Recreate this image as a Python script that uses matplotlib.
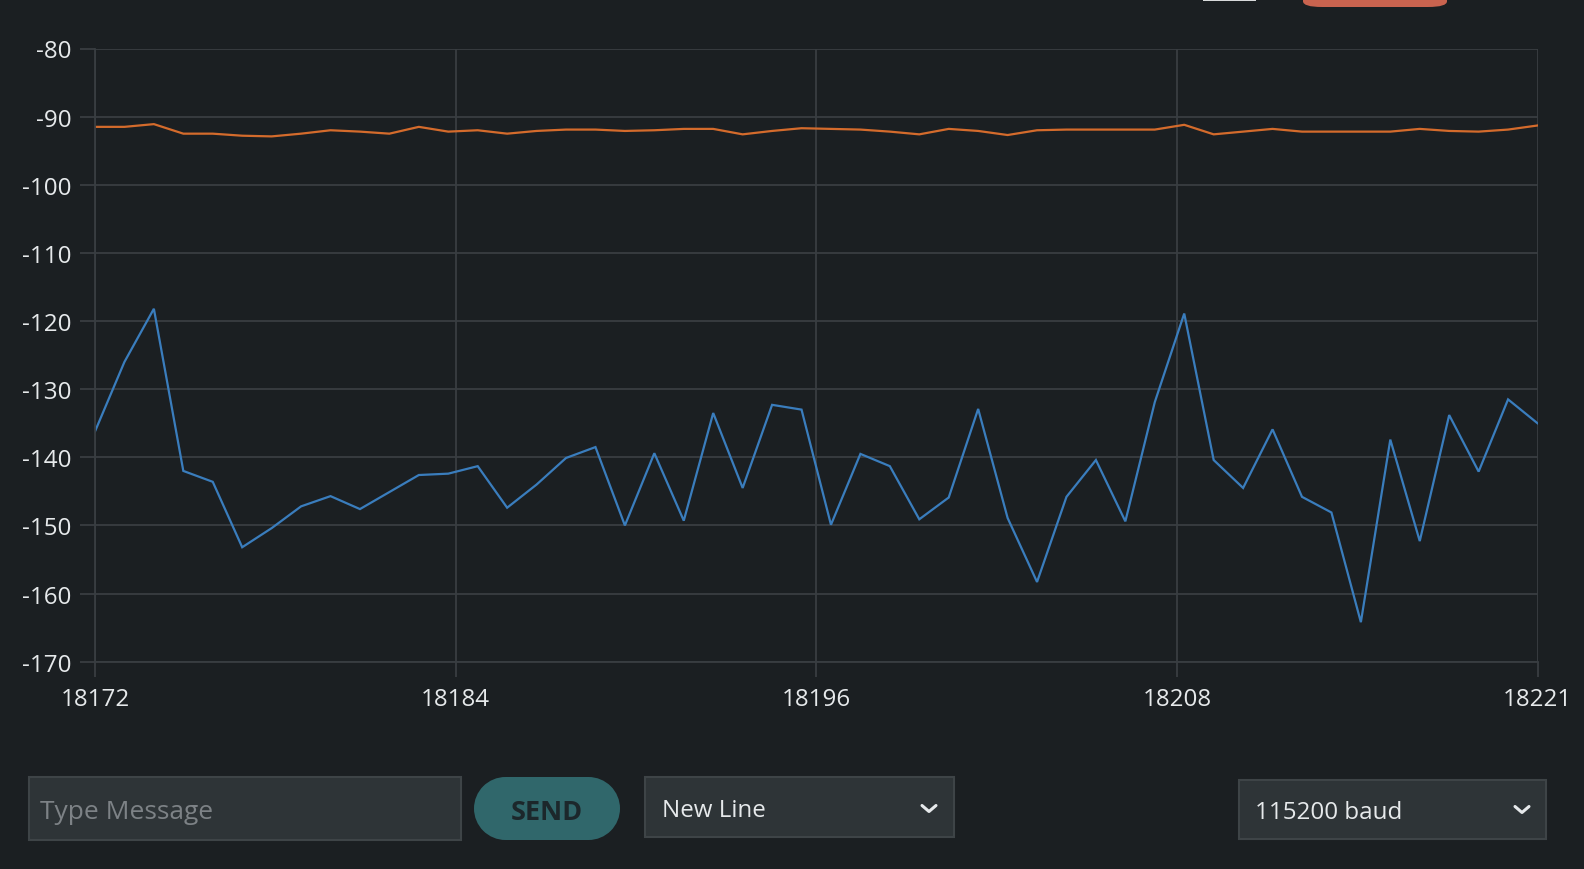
import numpy as np
import matplotlib
matplotlib.use("Agg")
import matplotlib.pyplot as plt
from matplotlib.patches import FancyBboxPatch, Rectangle, Ellipse
from matplotlib.lines import Line2D

# ---------------- data ----------------
x_start = 18172
x_end = 18221
series_blue = [-136.2, -126.0, -118.2, -142.0, -143.6, -153.2, -150.4, -147.2, -145.7, -147.6,
               -145.1, -142.6, -142.4, -141.3, -147.4, -144.0, -140.1, -138.5, -150.0, -139.4,
               -149.3, -133.5, -144.5, -132.3, -133.0, -149.9, -139.5, -141.3, -149.1, -145.9,
               -132.9, -148.9, -158.3, -145.8, -140.4, -149.4, -131.9, -118.9, -140.4, -144.5,
               -135.9, -145.8, -148.1, -164.2, -137.4, -152.3, -133.8, -142.1, -131.5, -135.0]
series_orange = [-91.5, -91.5, -91.1, -92.5, -92.5, -92.8, -92.9, -92.5, -92.0, -92.2,
                 -92.5, -91.5, -92.2, -92.0, -92.5, -92.1, -91.9, -91.9, -92.1, -92.0,
                 -91.8, -91.8, -92.6, -92.1, -91.7, -91.8, -91.9, -92.2, -92.6, -91.8,
                 -92.1, -92.7, -92.0, -91.9, -91.9, -91.9, -91.9, -91.2, -92.6, -92.2,
                 -91.8, -92.2, -92.2, -92.2, -92.2, -91.8, -92.1, -92.2, -91.9, -91.3]
y_ticks = [-80, -90, -100, -110, -120, -130, -140, -150, -160, -170]
x_tick_count = 5
widget_labels = ["Type Message", "SEND", "New Line", "115200 baud"]

# ---------------- style ----------------
BG = "#1b1f22"
GRID = "#393e42"
TEXT = "#e6e9eb"
BLUE = "#3a7dbd"
ORANGE = "#d46b2c"
FONT = ["Open Sans", "DejaVu Sans"]

W, H = 1584, 870
fig = plt.figure(figsize=(W / 100, H / 100), dpi=100, facecolor=BG)
plt.rcParams["font.family"] = FONT


def fx(px):
    return px / W


def fy(py):
    return 1 - py / H


ax_l, ax_r, ax_t, ax_b = 95, 1537.5, 49.5, 662.7
ax = fig.add_axes([fx(ax_l), fy(ax_b), fx(ax_r - ax_l), (ax_b - ax_t) / H])
ax.set_facecolor(BG)

xs = np.arange(x_start, x_end + 1)
ax.plot(xs, series_blue, color=BLUE, lw=1.6, solid_joinstyle="miter")
ax.plot(xs, series_orange, color=ORANGE, lw=1.6)

ax.set_xlim(x_start, x_end)
ax.set_ylim(-170, -80)
ax.set_yticks(y_ticks)
ax.set_yticklabels([str(v) for v in y_ticks])
xt = np.linspace(x_start, x_end, x_tick_count)
ax.set_xticks(xt)
ax.set_xticklabels([str(int(np.floor(v))) for v in xt])

ax.grid(True, color=GRID, lw=1.3)
for s in ["top", "right"]:
    ax.spines[s].set_visible(False)
for s in ["left", "bottom"]:
    ax.spines[s].set_color(GRID)
    ax.spines[s].set_linewidth(1.3)
ax.tick_params(axis="y", colors=GRID, labelcolor=TEXT, length=11, width=1.3, pad=6,
               labelsize=17.4)
ax.tick_params(axis="x", colors=GRID, labelcolor=TEXT, length=11, width=1.3, pad=7,
               labelsize=17.4)
for lab in ax.get_xticklabels() + ax.get_yticklabels():
    lab.set_family(FONT)

# ---------------- bottom widgets ----------------
BOX = "#2e3437"
BOX_EDGE = "#3e4447"
DY = 2


def box(x0, y0, x1, y1, fc, ec=None, lw=1.5):
    p = FancyBboxPatch((fx(x0), fy(y1 + DY)), fx(x1 - x0), (y1 - y0) / H,
                       boxstyle="square,pad=0", transform=fig.transFigure,
                       facecolor=fc, edgecolor=ec if ec else fc, lw=lw)
    fig.add_artist(p)


def chevron(cx, cy, w=7, h=5):
    cy = cy + DY
    line = Line2D([fx(cx - w), fx(cx), fx(cx + w)],
                  [fy(cy - h / 2), fy(cy + h / 2 + 1), fy(cy - h / 2)],
                  transform=fig.transFigure, color=TEXT, lw=2.2, solid_capstyle="round",
                  solid_joinstyle="round")
    fig.add_artist(line)


# Type message
box(29, 776, 461, 839, BOX, BOX_EDGE)
fig.text(fx(40), fy(811 + DY), widget_labels[0], color="#7d8286", fontsize=19, va="center",
         ha="left", family=FONT)

# SEND pill
pill_h = 63
PILL = "#30676b"
pcy = 807.5 + DY
fig.add_artist(Ellipse((fx(474 + pill_h / 2), fy(pcy)), fx(pill_h), pill_h / H,
                       transform=fig.transFigure, facecolor=PILL, edgecolor="none"))
fig.add_artist(Ellipse((fx(620 - pill_h / 2), fy(pcy)), fx(pill_h), pill_h / H,
                       transform=fig.transFigure, facecolor=PILL, edgecolor="none"))
fig.add_artist(Rectangle((fx(474 + pill_h / 2), fy(pcy + pill_h / 2)), fx(146 - pill_h), pill_h / H,
                         transform=fig.transFigure, facecolor=PILL, edgecolor="none"))
fig.text(fx(547), fy(811 + DY), widget_labels[1], color="#1c272b", fontsize=19.5, va="center",
         ha="center", weight="bold", family=FONT)

# New Line dropdown
box(645, 776, 954, 836, BOX, BOX_EDGE)
fig.text(fx(662), fy(809 + DY), widget_labels[2], color=TEXT, fontsize=17.4, va="center",
         ha="left", family=FONT)
chevron(929, 807)

# baud dropdown
box(1239, 779, 1546, 838, BOX, BOX_EDGE)
fig.text(fx(1255), fy(811 + DY), widget_labels[3], color=TEXT, fontsize=17.4, va="center",
         ha="left", family=FONT)
chevron(1522, 808)

# top cut-off buttons
fig.add_artist(FancyBboxPatch((fx(1303), fy(8)), fx(144), 30 / H,
                              boxstyle="round,pad=0,rounding_size=0.012",
                              transform=fig.transFigure, facecolor="#c9634f",
                              edgecolor="none", mutation_aspect=H / W))
fig.add_artist(Rectangle((fx(1203), fy(1.5)), fx(53), 3 / H, transform=fig.transFigure,
                         facecolor="#d8dadb", edgecolor="none"))

fig.savefig("out.png", dpi=100, facecolor=BG)
